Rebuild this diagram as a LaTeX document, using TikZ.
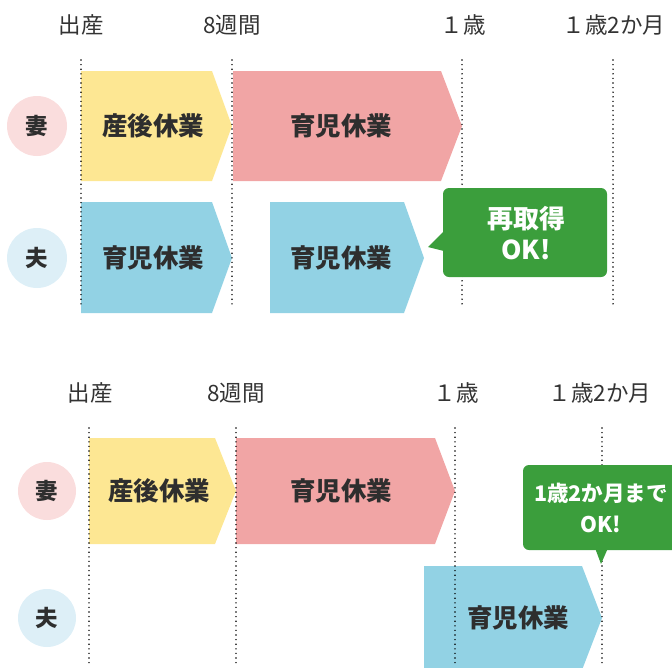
\documentclass[tikz,border=0pt]{standalone}
\usepackage{fontspec}
\setmainfont{Noto Sans CJK JP}
\begin{document}
\begin{tikzpicture}[x=1pt,y=-1pt,
  hdr/.style={font=\fontsize{22.5}{22.5}\selectfont, text=black!80},
  boxtxt/.style={font=\fontsize{25.5}{25.5}\selectfont\bfseries, text=black!82},
  circtxt/.style={font=\fontsize{22.5}{22.5}\selectfont\bfseries, text=black!82},
  bubtxt/.style={font=\fontsize{26}{31}\selectfont\bfseries, text=white, align=center},
  dotline/.style={line width=1.6pt, dash pattern=on 0pt off 4.6pt, line cap=round, black},
  bubble/.style={fill=okgreen, rounded corners=6pt}]
\definecolor{yel}{HTML}{FDE793}
\definecolor{pnk}{HTML}{F1A5A5}
\definecolor{blu}{HTML}{92D2E4}
\definecolor{okgreen}{HTML}{3B9E3C}
\definecolor{cpink}{HTML}{FADDDD}
\definecolor{cblue}{HTML}{DDEFF7}
\useasboundingbox (0,0) rectangle (672,667);

% ---------- top section ----------
\node[hdr] (t0) at (81,25) {出産};
\node[hdr] (t1) at (232,25) {8週間};
\node[hdr] (t2) at (463,25) {１歳};
\node[hdr] (t3) at (614,25) {１歳2か月};

\fill[yel] (81,71) -- (212,71) -- (232,126) -- (212,181) -- (81,181) -- cycle;
\fill[pnk] (233,71) -- (441,71) -- (462,126) -- (441,181) -- (233,181) -- cycle;
\fill[blu] (81,202) -- (212,202) -- (232,258) -- (212,313) -- (81,313) -- cycle;
\fill[blu] (270,202) -- (404,202) -- (424,258) -- (404,313) -- (270,313) -- cycle;

\node[boxtxt] (ta) at (153,126) {産後休業};
\node[boxtxt] (tb) at (341,126) {育児休業};
\node[boxtxt] (tc) at (153,258) {育児休業};
\node[boxtxt] (td) at (341,258) {育児休業};

\fill[cpink] (37,126) circle (30);
\node[circtxt] (tw) at (37,126) {妻};
\fill[cblue] (37,258) circle (30);
\node[circtxt] (th) at (37,258) {夫};

\coordinate (l0a) at (81,60); \coordinate (l0b) at (81,305);
\coordinate (l1a) at (232,60); \coordinate (l1b) at (232,305);
\coordinate (l2a) at (462,60); \coordinate (l2b) at (462,305);
\coordinate (l3a) at (613,60); \coordinate (l3b) at (613,305);
\draw[dotline] (l0a) -- (l0b);
\draw[dotline] (l1a) -- (l1b);
\draw[dotline] (l2a) -- (l2b);
\draw[dotline] (l3a) -- (l3b);

\fill[bubble] (443,188) rectangle (607,277);
\fill[okgreen] (444,231) -- (428,247) -- (444,251) -- cycle;
\node[bubtxt] (tok) at (526,233) {再取得\\OK!};

% ---------- bottom section ----------
\node[hdr] (b0) at (90,393) {出産};
\node[hdr] (b1) at (236,393) {8週間};
\node[hdr] (b2) at (456,393) {１歳};
\node[hdr] (b3) at (600,393) {１歳2か月};

\fill[yel] (89,438) -- (215,438) -- (236,491) -- (215,544) -- (89,544) -- cycle;
\fill[pnk] (236,438) -- (435,438) -- (455,491) -- (435,544) -- (236,544) -- cycle;
\fill[blu] (424,566) -- (582,566) -- (602,618) -- (582,670) -- (424,670) -- cycle;

\node[boxtxt] (ba) at (159,491) {産後休業};
\node[boxtxt] (bb) at (341,491) {育児休業};
\node[boxtxt] (bc) at (518,618) {育児休業};

\fill[cpink] (47,491) circle (29);
\node[circtxt] (bw) at (47,491) {妻};
\fill[cblue] (47,618) circle (29);
\node[circtxt] (bh) at (47,618) {夫};

\coordinate (m0a) at (89,428); \coordinate (m0b) at (89,667);
\coordinate (m1a) at (236,428); \coordinate (m1b) at (236,667);
\coordinate (m2a) at (455,428); \coordinate (m2b) at (455,667);
\coordinate (m3a) at (602,428); \coordinate (m3b) at (602,667);
\draw[dotline] (m0a) -- (m0b);
\draw[dotline] (m1a) -- (m1b);
\draw[dotline] (m2a) -- (m2b);
\draw[dotline] (m3a) -- (m3b);

\fill[bubble] (523,465) rectangle (682,550);
\fill[okgreen] (595,548) -- (601,564) -- (608,548) -- cycle;
\node[bubtxt, font=\fontsize{21.5}{31}\selectfont\bfseries] (bok) at (601,508) {1歳2か月まで\\OK!};
\end{tikzpicture}
\end{document}
